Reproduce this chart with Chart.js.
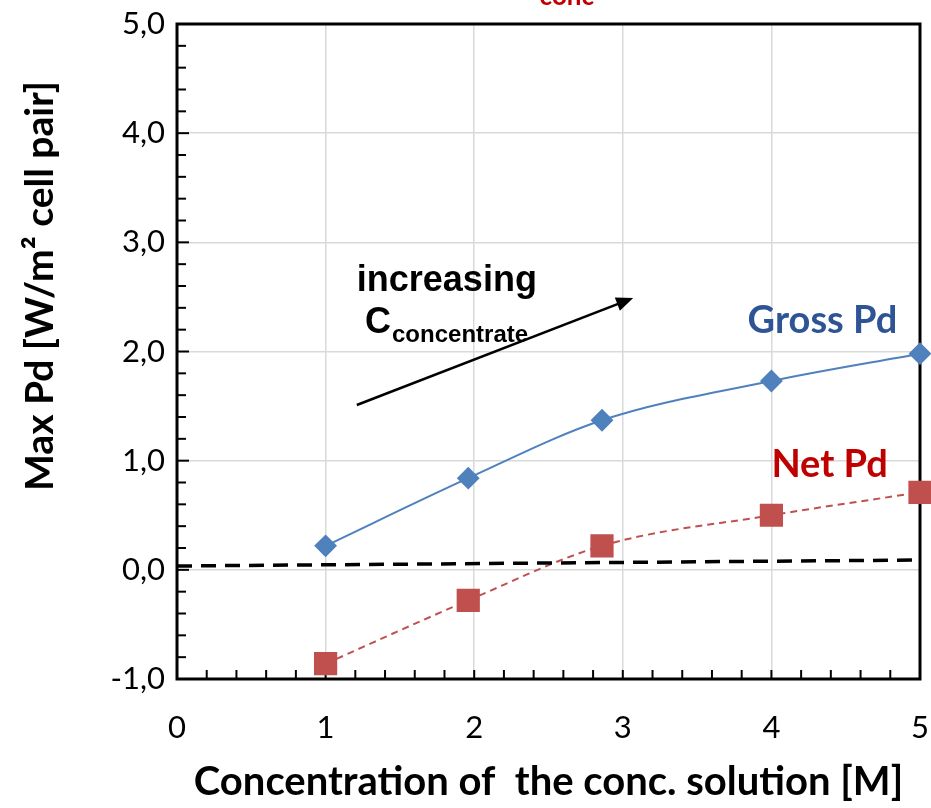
<!DOCTYPE html>
<html>
<head>
<meta charset="utf-8">
<script src="https://cdn.jsdelivr.net/npm/chart.js@4"></script>
<style>
  html, body { margin: 0; padding: 0; background: #fff; }
  #wrap { width: 931px; height: 808px; }
</style>
</head>
<body>
<div id="wrap"><canvas id="pdChart"></canvas></div>
<script>
// Data
const concentrations = [1, 1.96, 2.86, 4.0, 5.0];      // M
const grossPd = [0.22, 0.84, 1.37, 1.73, 1.98];         // W/m2 cell pair
const netPd = [-0.86, -0.28, 0.22, 0.50, 0.71];
const pumpLossX = [0, 5];
const pumpLossY = [0.035, 0.09];
const xTicks = [0, 1, 2, 3, 4, 5];
const yTicks = [-1, 0, 1, 2, 3, 4, 5];

const tickFont = "Lato";
const toPoints = (xs, ys) => xs.map((x, i) => ({ x: x, y: ys[i] }));

// frame, minor ticks, y title and text annotations
const decorations = {
  id: "decorations",
  beforeDatasetsDraw(chart) {
    const { ctx, chartArea: a, scales: { x, y } } = chart;
    ctx.save();
    ctx.strokeStyle = "#000";
    ctx.lineWidth = 2;
    // minor ticks every 0.2, pointing inwards
    for (let i = 0; i <= 30; i++) {
      let py = y.getPixelForValue(-1 + i * 0.2);
      let len = (i % 5 === 0) ? 12 : 9;
      ctx.beginPath(); ctx.moveTo(a.left, py); ctx.lineTo(a.left + len, py); ctx.stroke();
    }
    for (let i = 0; i <= 25; i++) {
      let px = x.getPixelForValue(i * 0.2);
      ctx.beginPath(); ctx.moveTo(px, a.bottom); ctx.lineTo(px, a.bottom - 9); ctx.stroke();
    }
    ctx.lineWidth = 3;
    ctx.strokeRect(a.left, a.top, a.right - a.left, a.bottom - a.top);
    ctx.restore();
  },
  afterDraw(chart) {
    const { ctx, scales: { x, y } } = chart;
    ctx.save();

    // y axis title (sits above the middle of the axis, as in the original)
    ctx.translate(40, y.getPixelForValue(2.6));
    ctx.rotate(-Math.PI / 2);
    ctx.textAlign = "center";
    ctx.textBaseline = "middle";
    ctx.fillStyle = "#000";
    ctx.font = "bold 39px " + tickFont;
    ctx.fillText("Max Pd [W/m\u00B2 cell pair]", 0, 0);
    ctx.setTransform(1, 0, 0, 1, 0, 0);

    ctx.textBaseline = "alphabetic";
    ctx.textAlign = "left";

    // arrow
    let x0 = x.getPixelForValue(1.21), y0 = y.getPixelForValue(1.51);
    let x1 = x.getPixelForValue(3.07), y1 = y.getPixelForValue(2.49);
    let ang = Math.atan2(y1 - y0, x1 - x0);
    ctx.strokeStyle = "#000"; ctx.fillStyle = "#000"; ctx.lineWidth = 2.5;
    ctx.beginPath(); ctx.moveTo(x0, y0);
    ctx.lineTo(x1 - 12 * Math.cos(ang), y1 - 12 * Math.sin(ang)); ctx.stroke();
    ctx.beginPath();
    ctx.moveTo(x1, y1);
    ctx.lineTo(x1 - 17 * Math.cos(ang) + 7 * Math.sin(ang), y1 - 17 * Math.sin(ang) - 7 * Math.cos(ang));
    ctx.lineTo(x1 - 17 * Math.cos(ang) - 7 * Math.sin(ang), y1 - 17 * Math.sin(ang) + 7 * Math.cos(ang));
    ctx.closePath(); ctx.fill();

    ctx.font = "bold 36px 'Liberation Sans'";
    ctx.fillText("increasing", x.getPixelForValue(1.21), y.getPixelForValue(2.55));
    ctx.fillText("C", x.getPixelForValue(1.265), y.getPixelForValue(2.17));
    ctx.font = "bold 24px 'Liberation Sans'";
    ctx.fillText("concentrate", x.getPixelForValue(1.447), y.getPixelForValue(2.09));

    ctx.font = "bold 38px " + tickFont;
    ctx.fillStyle = "#2F5496";
    ctx.fillText("Gross Pd", x.getPixelForValue(3.84), y.getPixelForValue(2.17));
    ctx.fillStyle = "#C00000";
    ctx.fillText("Net Pd", x.getPixelForValue(4.0), y.getPixelForValue(0.85));
    // cut-off label at the very top of the figure
    ctx.font = "bold 26px " + tickFont;
    ctx.fillText("conc", x.getPixelForValue(2.44), y.getPixelForValue(5.17));
    ctx.restore();
  }
};

let ctx = document.getElementById("pdChart").getContext("2d");
let pdChart = new Chart(ctx, {
  type: "scatter",
  data: {
    datasets: [
      {
        label: "Pump loss",
        data: toPoints(pumpLossX, pumpLossY),
        showLine: true,
        borderColor: "#000",
        borderWidth: 3.5,
        borderDash: [15, 9],
        pointRadius: 0,
      },
      {
        label: "Gross Pd",
        data: toPoints(concentrations, grossPd),
        showLine: true,
        cubicInterpolationMode: "monotone",
        borderColor: "#4F81BD",
        borderWidth: 2,
        pointStyle: "rectRot",
        pointRadius: 10,
        pointBackgroundColor: "#4F81BD",
        pointBorderColor: "#4F81BD",
        clip: false,
      },
      {
        label: "Net Pd",
        data: toPoints(concentrations, netPd),
        showLine: true,
        cubicInterpolationMode: "monotone",
        borderColor: "#C0504D",
        borderWidth: 2,
        borderDash: [7, 5],
        pointStyle: "rect",
        pointRadius: 15,
        pointBackgroundColor: "#C0504D",
        pointBorderColor: "#C0504D",
        clip: false,
      },
    ],
  },
  options: {
    responsive: true,
    maintainAspectRatio: false,
    animation: false,
    layout: { autoPadding: false, padding: { top: 24, right: 11, left: 0, bottom: 0 } },
    plugins: { legend: { display: false }, tooltip: { enabled: false } },
    scales: {
      x: {
        type: "linear",
        min: 0, max: 5,
        afterBuildTicks: (s) => { s.ticks = xTicks.map(v => ({ value: v })); },
        afterFit: (s) => { s.height = 129; s.paddingLeft = 0; s.paddingRight = 0; },
        grid: { color: "#d9d9d9", lineWidth: 1.5, drawTicks: false },
        border: { display: false },
        ticks: { color: "#000", font: { family: tickFont, size: 31 }, padding: 30, maxRotation: 0 },
        title: {
          display: true,
          text: "Concentration of  the conc. solution [M]",
          color: "#000",
          font: { family: tickFont, size: 40, weight: "bold" },
          padding: { top: 0, bottom: 2 },
        },
      },
      y: {
        type: "linear",
        min: -1, max: 5,
        afterBuildTicks: (s) => { s.ticks = yTicks.map(v => ({ value: v })); },
        afterFit: (s) => { s.width = 177; s.paddingTop = 0; s.paddingBottom = 0; },
        grid: { color: "#d9d9d9", lineWidth: 1.5, drawTicks: false },
        border: { display: false },
        ticks: {
          color: "#000",
          font: { family: tickFont, size: 31 },
          padding: 12,
          callback: (v) => v.toFixed(1).replace(".", ","),
        },
      },
    },
  },
  plugins: [decorations],
});
</script>
</body>
</html>
